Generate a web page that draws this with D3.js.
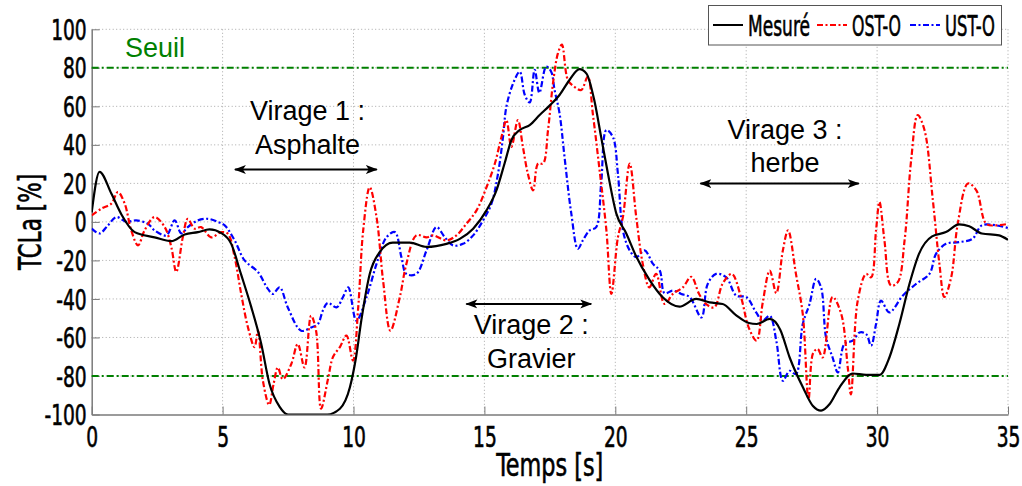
<!DOCTYPE html>
<html>
<head>
<meta charset="utf-8">
<script src="https://cdn.jsdelivr.net/npm/d3@7"></script>
<style>
  body { margin: 0; background: #fff; }
  svg { display: block; }
</style>
</head>
<body>
<script>
// values (time in s, TCLa in %)
const mesureT = [0, 0.3, 0.75, 1.13, 1.64, 2.4, 3.04, 3.55, 4.06, 4.5, 4.95, 5.33, 5.7, 6.09, 6.47, 6.79, 7.18, 7.5, 9.0, 9.48, 9.86, 10.1, 10.3, 10.62, 11.0, 11.5, 12.15, 12.79, 13.55, 14.06, 14.57, 15.08, 15.46, 15.77, 16.03, 16.35, 16.73, 17.11, 17.5, 17.87, 18.25, 18.63, 18.9, 19.2, 19.46, 19.72, 20.04, 20.42, 20.8, 21.3, 21.8, 22.45, 23.09, 23.6, 24.1, 24.62, 25.1, 25.4, 25.9, 26.3, 26.66, 27.17, 27.55, 27.86, 28.18, 28.56, 29.07, 29.58, 30.1, 30.47, 30.85, 31.24, 31.6, 32.1, 32.63, 33.13, 33.52, 34.0, 34.66, 35];
const mesureV = [5, 26, 14.7, 4, -5.3, -8, -10, -6.5, -5.3, -3.9, -5.8, -11.4, -27, -44, -63, -84, -96, -100, -100, -97, -86, -70, -51, -27, -15.7, -10.8, -10.8, -13, -11.4, -8.8, -3.5, 6, 16.4, 30.3, 42.4, 47.7, 50.3, 55.5, 60.5, 65.9, 73.7, 79.3, 77, 63, 44, 25, 4.3, -6, -18, -30, -39, -44, -40, -41.8, -42.6, -48.5, -52.5, -53, -50.4, -56, -70.4, -86, -95.6, -98, -94.7, -86, -78.7, -79.4, -79.4, -70.4, -53, -32, -16.6, -7.5, -5.3, -1.3, -2.3, -6, -7, -9.3];

const ostT = [0, 0.37, 0.75, 1.0, 1.26, 1.51, 1.77, 2.02, 2.4, 2.79, 3.04, 3.23, 3.48, 3.67, 3.93, 4.18, 4.56, 4.95, 5.2, 5.46, 5.71, 5.97, 6.22, 6.35, 6.54, 6.78, 6.95, 7.11, 7.3, 7.62, 7.87, 8.13, 8.38, 8.57, 8.76, 9.02, 9.22, 9.48, 9.73, 9.98, 10.18, 10.37, 10.62, 10.88, 11.13, 11.41, 11.77, 12.02, 12.4, 12.79, 13.04, 13.55, 13.93, 14.31, 14.7, 15.08, 15.4, 15.65, 15.84, 16.03, 16.28, 16.47, 16.66, 16.86, 17.05, 17.24, 17.43, 17.62, 17.81, 17.96, 18.19, 18.45, 18.7, 18.95, 19.14, 19.4, 19.66, 19.85, 20.1, 20.29, 20.55, 20.8, 21.05, 21.3, 21.56, 21.88, 22.2, 22.58, 22.9, 23.2, 23.46, 23.78, 24.1, 24.45, 24.8, 25.1, 25.4, 25.63, 25.9, 26.15, 26.4, 26.6, 26.9, 27.16, 27.38, 27.56, 27.73, 27.92, 28.3, 28.63, 28.88, 29.0, 29.26, 29.58, 29.77, 29.96, 30.09, 30.28, 30.53, 30.79, 31.05, 31.3, 31.55, 31.81, 32.13, 32.38, 32.57, 32.83, 33.08, 33.47, 33.79, 34.17, 34.55, 35];
const ostV = [3.4, 6.9, 9.5, 15.5, 9.5, -4.4, -12.2, -4.4, 2.5, -2.7, -13, -26, -8, 1.6, -3.5, -2.7, -8, -5.3, -6.1, -18.3, -37.4, -54.8, -65, -56.5, -82.5, -95, -84, -75.6, -81.7, -73.9, -63.4, -75.6, -48.7, -56.5, -97, -82, -70, -65, -59, -72, -44.4, -4.4, 18, 2.5, -30.5, -56.5, -39, -21.8, -7, -8, -7, -9.6, -7, -1, 6, 18, 30.3, 44, 52.8, 39, 52.8, 39, 25, 16.4, 30.3, 30.3, 47.6, 72, 87.6, 92, 73.7, 70, 68.5, 75.4, 56.4, 26.8, -4.4, -37.4, -8, 2.5, 30.3, 2.5, -21.8, -34, -27, -42.6, -37.4, -34, -28.5, -37.4, -42.6, -44.4, -32, -27, -39, -55, -61.7, -42, -25.3, -37, -14.8, -4.4, -27, -47.8, -92, -68, -66, -70.4, -39, -47.8, -75.6, -89.5, -40.9, -27, -28.8, -4.4, 10.3, -9.6, -33, -31.3, -9.6, 32, 55.5, 47.7, 11.2, -21.8, -39, -28.8, -1, 19.9, 16.4, -1, -1.8, -1];

const ustT = [0, 0.3, 0.62, 0.94, 1.32, 1.7, 2.15, 2.4, 2.85, 3.17, 3.42, 3.67, 4.06, 4.44, 4.82, 5.08, 5.46, 5.84, 6.35, 6.73, 6.92, 7.18, 7.49, 8.0, 8.38, 8.64, 8.83, 9.02, 9.35, 9.6, 9.8, 10.11, 10.5, 10.88, 11.26, 11.58, 11.83, 12.02, 12.4, 12.79, 13.17, 13.49, 13.8, 14.18, 14.57, 14.95, 15.27, 15.52, 15.71, 15.84, 16.1, 16.35, 16.54, 16.73, 16.92, 17.1, 17.36, 17.55, 17.68, 17.87, 18.06, 18.32, 18.57, 18.76, 19.02, 19.27, 19.46, 19.66, 19.91, 20.1, 20.29, 20.55, 20.8, 21.12, 21.44, 21.7, 21.88, 22.2, 22.52, 22.84, 23.29, 23.53, 23.85, 24.24, 24.62, 25.0, 25.38, 25.63, 25.9, 26.15, 26.4, 26.66, 26.9, 27.16, 27.42, 27.67, 27.86, 28.05, 28.3, 28.5, 28.75, 29.07, 29.33, 29.58, 29.77, 29.96, 30.15, 30.47, 30.98, 31.49, 32.0, 32.25, 32.63, 33.13, 33.64, 34.0, 34.55, 35];
const ustV = [-3.5, -6, -1.8, 2.5, 0, 0.8, -1, -4.4, -7, 0.8, -6, -2.7, 0.8, 1.6, 0, -1.8, -9.6, -20, -26, -34.8, -37.4, -34, -44.4, -56.5, -54.8, -53, -46, -42, -44.4, -39, -34, -51.3, -39, -21.8, -8, -5.3, -18.3, -27, -27, -14.8, -2.7, -8, -12.2, -11.4, -7, 0.8, 9.5, 25, 44, 59.8, 72, 78, 66, 62, 79, 67, 80.6, 78, 68.5, 56.4, 33.8, 4.3, -14, -9.6, -4.4, -2.7, 19.9, 47.7, 44, 25, -4.4, -14.8, -18.3, -14.8, -21.8, -25.3, -37, -35.7, -37.4, -39, -49.6, -32.2, -27, -28.8, -38.3, -39, -47, -51.3, -48.7, -61.7, -82.5, -77.3, -79, -53, -42.6, -29.6, -34, -60, -70.4, -78.2, -63.4, -61.7, -57.4, -58.2, -64.3, -53, -40.9, -47, -38.3, -32.2, -27, -16.6, -11.4, -10.5, -8.8, -1.8, -1.8, -3.2];

const seriesNames = ["Mesuré", "OST-O", "UST-O"];
const seuils = [80, -80];
const xTicks = [0, 5, 10, 15, 20, 25, 30, 35];
const yTicks = [-100, -80, -60, -40, -20, 0, 20, 40, 60, 80, 100];

// annotation anchors in data units
const virageLines = [["Virage 1 :", "Asphalte"], ["Virage 2 :", "Gravier"], ["Virage 3 :", "herbe"]];
const virageTextX = [8.24, 16.79, 26.48];
const virageTextY = [[52.9, 35.2], [-58.2, -75.6], [43, 25.8]];
const virageArrowFrom = [5.47, 14.31, 23.25];
const virageArrowTo = [10.89, 19.08, 29.3];
const virageArrowY = [27.2, -42.6, 19.9];

const width = 1022, height = 486;
const plotLeft = 91.7, plotRight = 1008, plotTop = 29.3, plotBottom = 414.5;
const narrow = "'Liberation Sans Narrow', 'DejaVu Sans Condensed', sans-serif";
const sans = "'Liberation Sans', Arial, sans-serif";

const x = d3.scaleLinear().domain([0, 35]).range([plotLeft, plotRight]);
const y = d3.scaleLinear().domain([-100, 100]).range([plotBottom, plotTop]);

const svg = d3.select("body").append("svg")
  .attr("width", width)
  .attr("height", height);

// squeeze a narrow font further, like the original condensed face
function squeeze(sel, k) {
  sel.each(function () {
    const w = this.getComputedTextLength();
    d3.select(this).attr("textLength", w * k).attr("lengthAdjust", "spacingAndGlyphs");
  });
}
function fitTo(sel, w) {
  sel.attr("textLength", w).attr("lengthAdjust", "spacingAndGlyphs");
}
// slightly heavier than the regular narrow face
function thicken(sel) {
  sel.attr("stroke", "#000").attr("stroke-width", 0.6);
}

// grid
svg.append("g").selectAll("line")
  .data(xTicks.filter(d => d > 0))
  .join("line")
  .attr("x1", d => x(d)).attr("x2", d => x(d))
  .attr("y1", plotTop).attr("y2", plotBottom)
  .attr("stroke", "#a8a8a8").attr("stroke-width", 1).attr("stroke-dasharray", "1,2.5");
svg.append("g").selectAll("line")
  .data(yTicks.filter(d => d > -100))
  .join("line")
  .attr("x1", plotLeft).attr("x2", plotRight)
  .attr("y1", d => y(d)).attr("y2", d => y(d))
  .attr("stroke", "#a8a8a8").attr("stroke-width", 1).attr("stroke-dasharray", "1,2.5");

// axes with ticks pointing inside
const gx = svg.append("g")
  .attr("transform", `translate(0,${plotBottom})`)
  .call(d3.axisBottom(x).tickValues(xTicks).tickSizeInner(-8).tickSizeOuter(0).tickPadding(13).tickFormat(d3.format("d")));
const gy = svg.append("g")
  .attr("transform", `translate(${plotLeft},0)`)
  .call(d3.axisLeft(y).tickValues(yTicks).tickSizeInner(-8).tickSizeOuter(0).tickPadding(5).tickFormat(d3.format("d")));

[gx, gy].forEach(g => {
  g.select(".domain").attr("stroke", "#7a7a7a").attr("stroke-width", 1.5);
  g.selectAll(".tick line").attr("stroke", "#7a7a7a").attr("stroke-width", 1);
  g.selectAll(".tick text")
    .attr("fill", "#000")
    .style("font-family", narrow)
    .style("font-size", "28px")
    .text(function () { return this.textContent.replace("−", "-"); });
  thicken(g.selectAll(".tick text"));
  squeeze(g.selectAll(".tick text"), 0.74);
});
gy.selectAll(".tick text").attr("dy", "0.36em");

// threshold lines
svg.append("g").selectAll("line")
  .data(seuils)
  .join("line")
  .attr("x1", plotLeft).attr("x2", plotRight)
  .attr("y1", d => y(d)).attr("y2", d => y(d))
  .attr("stroke", "#008000").attr("stroke-width", 2).attr("stroke-dasharray", "7,3,2,3");

svg.append("text")
  .attr("x", x(1.27)).attr("y", y(85.7))
  .attr("fill", "#008000")
  .style("font-family", sans).style("font-size", "27px")
  .text("Seuil");

// series
svg.append("clipPath").attr("id", "plot")
  .append("rect").attr("x", plotLeft).attr("y", plotTop - 2).attr("width", plotRight - plotLeft).attr("height", plotBottom - plotTop + 2);

const series = [
  { name: seriesNames[0], t: mesureT, v: mesureV, color: "#000", dash: null, curve: d3.curveMonotoneX },
  { name: seriesNames[1], t: ostT, v: ostV, color: "#ff0000", dash: "6,2.5,2,2.5", curve: d3.curveCatmullRom.alpha(0.5) },
  { name: seriesNames[2], t: ustT, v: ustV, color: "#0000ff", dash: "6,2.5,2,2.5", curve: d3.curveCatmullRom.alpha(0.5) }
];

const plot = svg.append("g").attr("clip-path", "url(#plot)");
series.slice().reverse().forEach(s => {
  const line = d3.line()
    .x((d, i) => x(s.t[i]))
    .y(d => y(d))
    .curve(s.curve);
  plot.append("path")
    .attr("d", line(s.v))
    .attr("fill", "none")
    .attr("stroke", s.color)
    .attr("stroke-width", 2.2)
    .attr("stroke-linejoin", "round")
    .attr("stroke-dasharray", s.dash);
});

// annotations: double arrows and text
const defs = svg.append("defs");
["start", "end"].forEach(k => {
  defs.append("marker")
    .attr("id", "arr-" + k)
    .attr("viewBox", "0 -5 12 10")
    .attr("refX", k === "end" ? 11 : 1)
    .attr("refY", 0)
    .attr("markerWidth", 12).attr("markerHeight", 10)
    .attr("markerUnits", "userSpaceOnUse")
    .attr("orient", "auto")
    .append("path")
    .attr("d", k === "end" ? "M0,-4.5L12,0L0,4.5L3,0Z" : "M12,-4.5L0,0L12,4.5L9,0Z")
    .attr("fill", "#000");
});

virageLines.forEach((lines, i) => {
  svg.append("line")
    .attr("x1", x(virageArrowFrom[i])).attr("x2", x(virageArrowTo[i]))
    .attr("y1", y(virageArrowY[i])).attr("y2", y(virageArrowY[i]))
    .attr("stroke", "#000").attr("stroke-width", 2)
    .attr("marker-start", "url(#arr-start)")
    .attr("marker-end", "url(#arr-end)");
  lines.forEach((txt, j) => {
    svg.append("text")
      .attr("x", x(virageTextX[i])).attr("y", y(virageTextY[i][j]))
      .attr("text-anchor", "middle")
      .attr("fill", "#000")
      .style("font-family", sans).style("font-size", "27px")
      .text(txt);
  });
});

// axis titles
const xTitle = svg.append("text")
  .attr("x", (plotLeft + plotRight) / 2).attr("y", 476)
  .attr("text-anchor", "middle")
  .style("font-family", narrow).style("font-size", "32px")
  .text("Temps [s]");
fitTo(xTitle, 107);
thicken(xTitle);

const yTitle = svg.append("text")
  .attr("transform", `translate(41,${(plotTop + plotBottom) / 2}) rotate(-90)`)
  .attr("text-anchor", "middle")
  .style("font-family", narrow).style("font-size", "32px")
  .text("TCLa [%]");
fitTo(yTitle, 96);
thicken(yTitle);

// legend
const lg = svg.append("g");
lg.append("rect")
  .attr("x", 708.5).attr("y", 5.5).attr("width", 293).attr("height", 39.5)
  .attr("fill", "#fff").attr("stroke", "#555").attr("stroke-width", 1);
const legX = [713, 817, 910];
const legW = [62, 49, 50];
series.forEach((s, i) => {
  lg.append("line")
    .attr("x1", legX[i]).attr("x2", legX[i] + 30)
    .attr("y1", 25).attr("y2", 25)
    .attr("stroke", s.color).attr("stroke-width", 2)
    .attr("stroke-dasharray", s.dash);
  const t = lg.append("text")
    .attr("x", legX[i] + 35).attr("y", 36)
    .style("font-family", narrow).style("font-size", "29px")
    .text(s.name);
  fitTo(t, legW[i]);
  thicken(t);
});
</script>
</body>
</html>
